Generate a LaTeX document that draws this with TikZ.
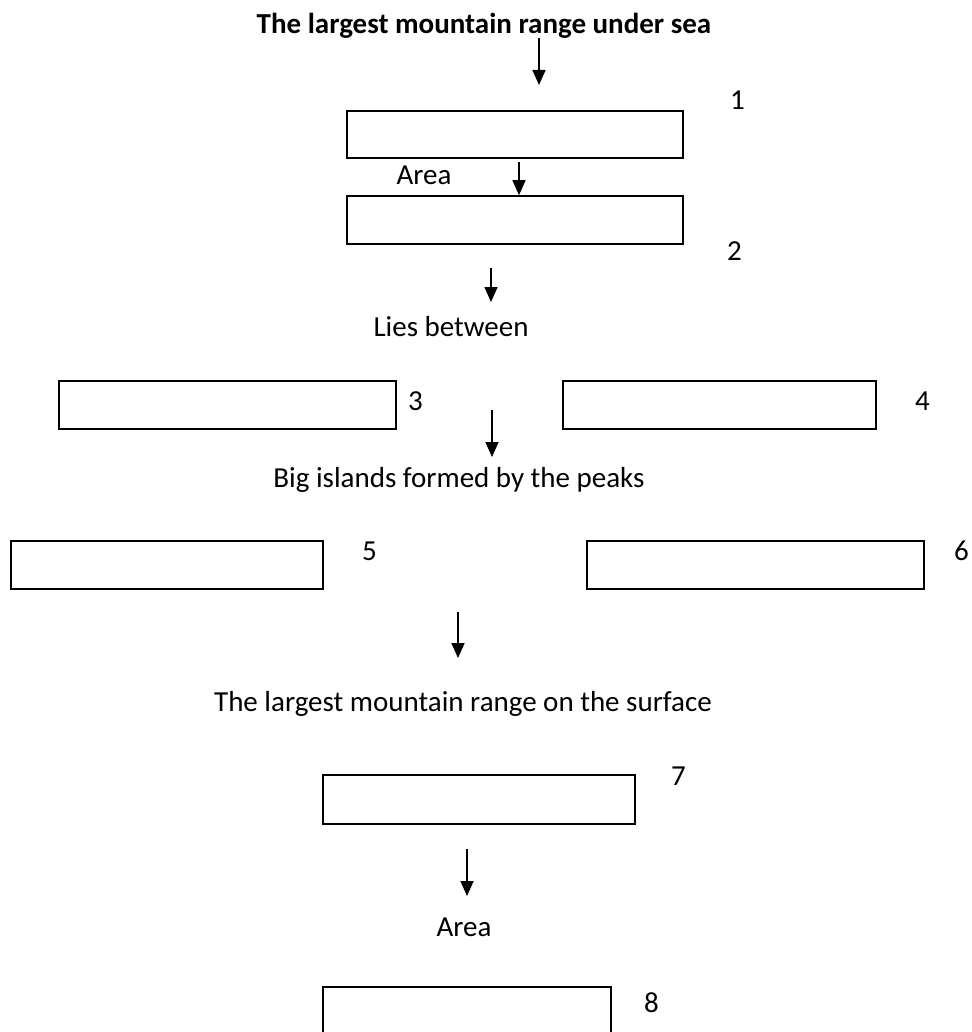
\documentclass[tikz,border=0pt]{standalone}
\usepackage{fontspec}
\setmainfont{Carlito}
\usetikzlibrary{arrows.meta}
\begin{document}
\begin{tikzpicture}[x=1pt,y=-1pt,
  txt/.style={inner sep=0pt,anchor=base,font=\fontsize{29}{34}\selectfont},
  num/.style={inner sep=0pt,anchor=base west,font=\fontsize{29}{34}\selectfont},
  box/.style={draw,line width=1.6pt,inner sep=0pt},
  arr/.style={line width=1.6pt,-{Triangle[width=13pt,length=15pt]}}]
\useasboundingbox (0,0) rectangle (971,1032);
% texts
\node[txt,font=\fontsize{29}{34}\selectfont\bfseries] (title) at (484,34) {The largest mountain range under sea};
\node[txt] (area1) at (424,185) {Area};
\node[txt] (lies) at (451,336) {Lies between};
\node[txt] (big) at (459,487) {Big islands formed by the peaks};
\node[txt] (surf) at (463,711) {The largest mountain range on the surface};
\node[txt] (area2) at (464,936) {Area};
% boxes
\node[box,minimum width=336pt,minimum height=47pt] (b1) at (515,134.5) {};
\node[box,minimum width=336pt,minimum height=48pt] (b2) at (515,220) {};
\node[box,minimum width=337pt,minimum height=48pt] (b3) at (227.5,405) {};
\node[box,minimum width=313pt,minimum height=48pt] (b4) at (719.5,405) {};
\node[box,minimum width=312pt,minimum height=48pt] (b5) at (167,565) {};
\node[box,minimum width=337pt,minimum height=48pt] (b6) at (755.5,565) {};
\node[box,minimum width=312pt,minimum height=49pt] (b7) at (479,799.5) {};
\node[box,minimum width=288pt,minimum height=70pt] (b8) at (467,1022) {};
% numbers
\node[num] (n1) at (730,110) {1};
\node[num] (n2) at (727,260) {2};
\node[num] (n3) at (408,410) {3};
\node[num] (n4) at (915,410) {4};
\node[num] (n5) at (362,560) {5};
\node[num] (n6) at (954,560) {6};
\node[num] (n7) at (671,785) {7};
\node[num] (n8) at (644,1012) {8};
% arrow ends
\coordinate (a1s) at (539,38);  \coordinate (a1e) at (539,85);
\coordinate (a3s) at (491,268); \coordinate (a3e) at (491,302);
\coordinate (a4s) at (492,410); \coordinate (a4e) at (492,457);
\coordinate (a5s) at (458,612); \coordinate (a5e) at (458,658);
\coordinate (a6s) at (467,849); \coordinate (a6e) at (467,896);
% arrows
\draw[arr] (a1s) -- (a1e);
\draw[arr] ([xshift=4pt,yshift=-3pt]b1.south) -- ([xshift=4pt]b2.north);
\draw[arr] (a3s) -- (a3e);
\draw[arr] (a4s) -- (a4e);
\draw[arr] (a5s) -- (a5e);
\draw[arr] (a6s) -- (a6e);
\end{tikzpicture}
\end{document}
